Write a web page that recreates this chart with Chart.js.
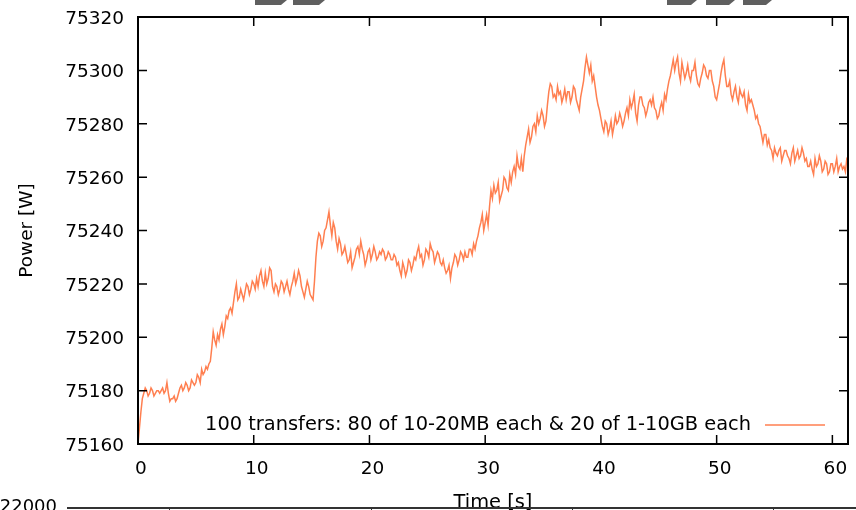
<!DOCTYPE html>
<html><head><meta charset="utf-8">
<script src="https://cdn.jsdelivr.net/npm/chart.js@4.4.0/dist/chart.umd.min.js"></script>
<style>html,body{margin:0;padding:0;background:#fff}#wrap{width:856px;height:510px;overflow:hidden}</style>
</head><body><div id="wrap"><canvas id="c" width="856" height="510"></canvas></div>
<script>
const seriesLabel = "100 transfers: 80 of 10-20MB each & 20 of 1-10GB each";
const xTitle = "Time [s]";
const yTitle = "Power [W]";
const sampleStep = 0.125; // seconds between samples
const powerW = [
  75160,75166,75172,75177,75179,75181,75180,75178,
  75179,75181,75180,75178,75179,75180,75180,75179,
  75180,75181,75179,75180,75183,75179,75176,75177,
  75177,75178,75176,75177,75179,75181,75182,75180,
  75181,75183,75182,75180,75181,75184,75183,75182,
  75183,75186,75185,75183,75188,75186,75187,75189,
  75188,75190,75191,75196,75202,75199,75197,75201,
  75199,75203,75205,75201,75204,75208,75207,75210,
  75211,75209,75213,75217,75220,75214,75215,75218,
  75216,75214,75217,75220,75219,75216,75218,75221,
  75220,75218,75222,75219,75223,75225,75221,75219,
  75224,75220,75222,75226,75225,75219,75217,75220,
  75219,75216,75218,75221,75220,75217,75219,75221,
  75218,75216,75219,75221,75224,75220,75222,75225,
  75223,75219,75217,75215,75218,75221,75219,75216,
  75215,75214,75221,75230,75236,75239,75238,75234,
  75236,75240,75241,75244,75247,75242,75238,75243,
  75241,75236,75233,75237,75235,75231,75232,75234,
  75231,75228,75229,75232,75226,75228,75230,75233,
  75234,75231,75236,75233,75231,75227,75229,75232,
  75233,75229,75231,75234,75232,75229,75230,75232,
  75231,75233,75232,75229,75230,75232,75231,75229,
  75229,75231,75230,75227,75228,75225,75223,75228,
  75226,75223,75225,75229,75228,75225,75227,75230,
  75229,75232,75234,75230,75231,75227,75229,75233,
  75232,75230,75235,75233,75232,75228,75230,75232,
  75231,75228,75227,75229,75226,75224,75225,75227,
  75222,75226,75228,75231,75230,75227,75229,75232,
  75231,75229,75232,75230,75230,75233,75233,75231,
  75235,75233,75236,75238,75241,75243,75246,75240,
  75243,75246,75242,75249,75255,75252,75257,75254,
  75255,75258,75251,75253,75255,75260,75259,75256,
  75255,75261,75258,75262,75264,75261,75268,75264,
  75263,75267,75262,75268,75272,75275,75278,75273,
  75275,75279,75280,75277,75283,75280,75282,75285,
  75283,75279,75281,75287,75292,75295,75294,75290,
  75291,75289,75294,75291,75292,75288,75290,75293,
  75289,75292,75292,75288,75290,75294,75293,75289,
  75287,75285,75290,75293,75296,75301,75305,75302,
  75299,75302,75296,75298,75294,75290,75287,75285,
  75282,75279,75277,75281,75280,75276,75278,75281,
  75276,75279,75283,75280,75281,75284,75282,75279,
  75281,75284,75286,75283,75289,75286,75288,75291,
  75284,75281,75287,75290,75290,75287,75286,75283,
  75285,75288,75289,75287,75290,75286,75285,75282,
  75283,75286,75288,75285,75291,75289,75293,75296,
  75298,75301,75304,75300,75303,75305,75299,75296,
  75303,75300,75297,75299,75302,75298,75296,75300,
  75300,75303,75298,75295,75294,75297,75299,75302,
  75301,75298,75297,75300,75300,75296,75294,75290,
  75289,75292,75295,75299,75302,75304,75298,75294,
  75294,75296,75291,75289,75292,75294,75290,75288,
  75293,75291,75290,75292,75287,75285,75291,75288,
  75289,75287,75285,75282,75283,75280,75279,75276,
  75273,75276,75276,75272,75274,75271,75270,75267,
  75271,75269,75268,75270,75271,75266,75268,75270,
  75270,75268,75267,75265,75269,75271,75266,75268,
  75270,75267,75268,75271,75269,75266,75267,75264,
  75264,75266,75263,75261,75267,75264,75265,75268,
  75266,75262,75263,75266,75265,75261,75262,75265,
  75265,75262,75264,75267,75262,75264,75265,75263,
  75264,75262,75267,75268
];
const xTickValues = [0,10,20,30,40,50,60];
const yTickValues = [75160,75180,75200,75220,75240,75260,75280,75300,75320];
const xRange = [0, 61.35];
const yRange = [75160, 75320];
const lineColor = '#ff7f50';
const FONT = '"DejaVu Sans", sans-serif';

const points = powerW.map((v, i) => ({x: i * sampleStep, y: v}));

const framePlugin = {
  id: 'frame',
  afterDatasetsDraw(chart) {
    const {ctx, chartArea: a, scales: {x, y}} = chart;
    ctx.save();
    ctx.strokeStyle = '#000';
    ctx.lineWidth = 1.5;
    const L = 9;
    ctx.beginPath();
    x.ticks.forEach(t => {
      const px = x.getPixelForValue(t.value);
      ctx.moveTo(px, a.bottom); ctx.lineTo(px, a.bottom - L);
      ctx.moveTo(px, a.top); ctx.lineTo(px, a.top + L);
    });
    y.ticks.forEach(t => {
      const py = y.getPixelForValue(t.value);
      ctx.moveTo(a.left, py); ctx.lineTo(a.left + L, py);
      ctx.moveTo(a.right, py); ctx.lineTo(a.right - L, py);
    });
    ctx.stroke();
    ctx.lineWidth = 2;
    ctx.strokeRect(a.left, a.top, a.right - a.left, a.bottom - a.top);
    // legend inside bottom-right
    const ds = chart.data.datasets[0];
    const ly = a.bottom - 19;
    ctx.font = '19.4px ' + FONT;
    ctx.fillStyle = '#000';
    ctx.textAlign = 'right';
    ctx.textBaseline = 'middle';
    ctx.fillText(ds.label, a.right - 97, ly);
    ctx.strokeStyle = ds.borderColor;
    ctx.lineWidth = 1.5;
    ctx.beginPath();
    ctx.moveTo(a.right - 83, ly); ctx.lineTo(a.right - 23, ly);
    ctx.stroke();
    ctx.restore();
  },
  afterDraw(chart) {
    // fragments of neighbouring figures visible at the page edges
    const ctx = chart.ctx;
    ctx.save();
    ctx.fillStyle = '#5f5f5f';
    [[255,287],[293,325],[667,697],[706,735],[743,772]].forEach(([l, r]) => {
      ctx.beginPath();
      ctx.moveTo(l, 0); ctx.lineTo(r, 0); ctx.lineTo(r - 6, 5); ctx.lineTo(l, 5);
      ctx.closePath(); ctx.fill();
    });
    ctx.fillStyle = '#000';
    ctx.font = '18px ' + FONT;
    ctx.textAlign = 'right';
    ctx.textBaseline = 'alphabetic';
    ctx.fillText('22000', 57, 512);
    ctx.fillStyle = '#333';
    ctx.fillRect(67, 507, 789, 2);
    [169, 371, 572, 773].forEach(tx => ctx.fillRect(tx, 509, 1, 1));
    ctx.restore();
  }
};

new Chart(document.getElementById('c'), {
  type: 'line',
  data: {
    datasets: [{
      label: seriesLabel,
      data: points,
      borderColor: lineColor,
      borderWidth: 1.5,
      pointRadius: 0,
      tension: 0,
      fill: false
    }]
  },
  options: {
    responsive: false,
    animation: false,
    devicePixelRatio: 1,
    layout: {padding: {top: 17, right: 8, left: 0, bottom: 0}},
    plugins: {legend: {display: false}, tooltip: {enabled: false}},
    scales: {
      x: {
        type: 'linear',
        min: xRange[0], max: xRange[1],
        afterFit: s => { s.height = 66; s.paddingLeft = 0; s.paddingRight = 0; },
        afterBuildTicks: s => { s.ticks = xTickValues.map(v => ({value: v})); },
        grid: {display: false, drawTicks: false},
        border: {display: false},
        ticks: {padding: 14, labelOffset: 3, color: '#000', font: {family: FONT, size: 18.5}, maxRotation: 0, autoSkip: false, includeBounds: false, callback: v => String(v)},
        title: {display: true, text: xTitle, color: '#000', font: {family: FONT, size: 19.4}, padding: {top: 0, bottom: -5}}
      },
      y: {
        type: 'linear',
        min: yRange[0], max: yRange[1],
        afterFit: s => { s.width = 138; s.paddingTop = 0; s.paddingBottom = 0; },
        afterBuildTicks: s => { s.ticks = yTickValues.map(v => ({value: v})); },
        grid: {display: false, drawTicks: false},
        border: {display: false},
        ticks: {padding: 14, labelOffset: 2, color: '#000', font: {family: FONT, size: 18.5}, autoSkip: false, includeBounds: false, callback: v => String(v)},
        title: {display: true, text: yTitle, color: '#000', font: {family: FONT, size: 18.5}, padding: {top: 16, bottom: 0}}
      }
    }
  },
  plugins: [framePlugin]
});
</script>
</body></html>
